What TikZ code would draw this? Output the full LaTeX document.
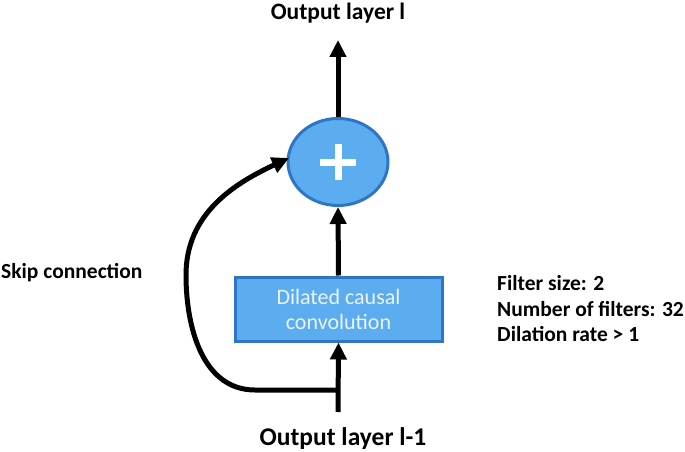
\documentclass[tikz,border=0pt]{standalone}
\usepackage{fontspec}
\setmainfont{Carlito}
\usetikzlibrary{arrows.meta,shapes.geometric}
\definecolor{boxfill}{RGB}{91,173,239}
\definecolor{boxline}{RGB}{46,117,198}
\definecolor{boxtext}{RGB}{235,243,252}
\tikzset{
  lbl/.style={font=\bfseries\fontsize{21.5}{25}\selectfont, inner sep=0pt},
  conn/.style={line width=5pt, -{Triangle[width=16pt,length=17pt]}},
  blue/.style={fill=boxfill, draw=boxline, line width=3pt},
}
\begin{document}
\begin{tikzpicture}[x=1pt,y=-1pt]
\useasboundingbox (0,0) rectangle (685,452);
\node[lbl, font=\bfseries\fontsize{23.5}{25}\selectfont] (out) at (338,13) {Output layer l};
\node[lbl, font=\bfseries\fontsize{25.5}{25}\selectfont] (in) at (343,439) {Output layer l-1};
\node[lbl, anchor=west] (skip) at (1,273) {Skip connection};
\node[lbl, anchor=west, align=left, font=\bfseries\fontsize{21.5}{25.5}\selectfont] (params) at (497,309) {Filter size: 2\\Number of filters: 32\\Dilation rate > 1};
\node[blue, ellipse, minimum width=100pt, minimum height=87pt, inner sep=0pt] (sum) at (338,162) {};
\draw[white, line width=7pt] ([xshift=-18pt]sum.center) -- ([xshift=18pt]sum.center)
  ([yshift=-18pt]sum.center) -- ([yshift=18pt]sum.center);
\node[blue, rectangle, minimum width=207pt, minimum height=64pt, inner sep=0pt, text=boxtext, align=center, font=\fontsize{22}{25}\selectfont] (conv) at (338.5,309) {Dilated causal\\convolution};
\coordinate (top) at (338,40);
\coordinate (bot) at (338,412);
\coordinate (split) at (338,390);
\coordinate (skipend) at (289,158);
\draw[conn] (sum.north) -- (top);
\draw[conn] (conv.north) -- (sum.south);
\draw[conn] (bot) -- (conv.south);
\draw[conn] (split) -- (255,390) to[out=180,in=270] (186,275) to[out=90,in=205] (skipend);
\end{tikzpicture}
\end{document}
